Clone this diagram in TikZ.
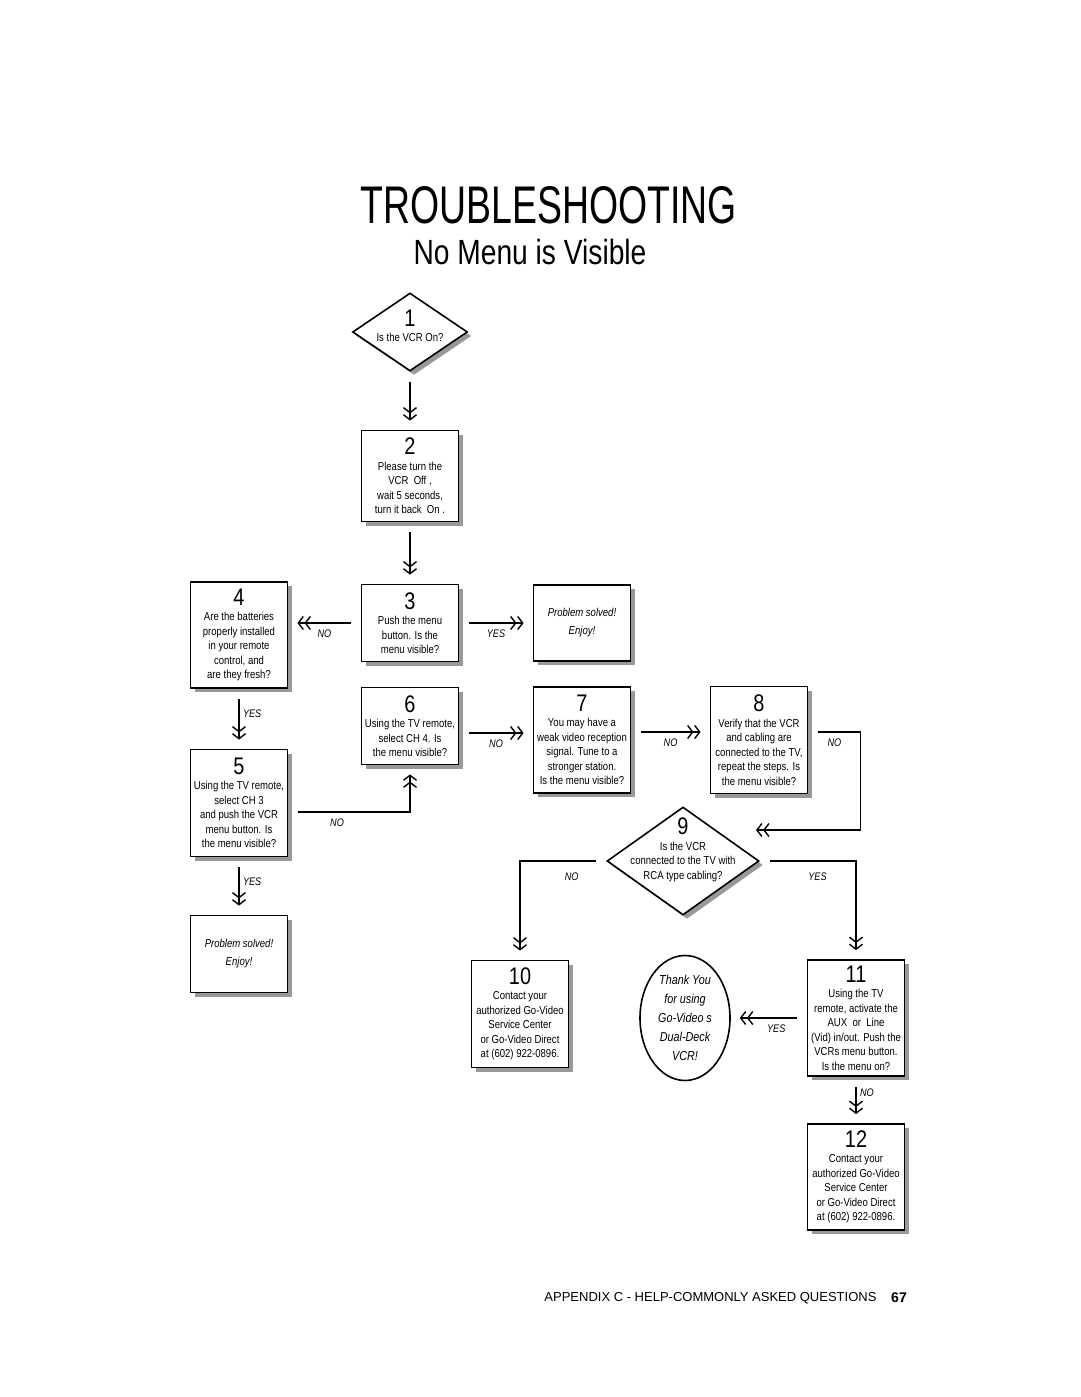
\documentclass[tikz,border=0pt]{standalone}
\usepackage{fontspec}
\setmainfont{Liberation Sans}[FakeStretch=0.83]
\newfontfamily\footfont{Liberation Sans}
\usetikzlibrary{shapes.geometric,shadows,arrows.meta}
\tikzstyle{every node}=[font=\fontsize{11.5}{14.5}\selectfont]
\tikzstyle{shade}=[drop shadow={shadow xshift=4pt,shadow yshift=-4pt,fill=black!40,opacity=1}]
\tikzstyle{stepbox}=[draw,line width=1.8pt,fill=white,shade,minimum width=97pt,align=center,inner sep=2pt]
\tikzstyle{decision}=[draw,diamond,line width=1.6pt,fill=white,shade,inner sep=0pt]
\tikzstyle{solved}=[stepbox,font=\fontsize{11.5}{18}\selectfont\itshape]
\tikzstyle{flow}=[line width=1.4pt,shorten <=10pt,shorten >=9pt,
	-{Straight Barb[length=5pt,width=13pt,sep=0.5pt]Straight Barb[length=5pt,width=13pt]}]
\tikzstyle{answer}=[font=\fontsize{11}{12}\selectfont\itshape]
\newcommand{\stepno}[1]{{\fontsize{24}{24}\selectfont #1}\\[1pt]}

\begin{document}
\begin{tikzpicture}[x=1pt,y=-1pt]
	\useasboundingbox (0,0) rectangle (1080,1397);
	\node(title) at (549,205) {\fontsize{53}{53}\selectfont\scalebox{0.85}[1]{TROUBLESHOOTING}};
	\node(sub) at (530,252) {\fontsize{35}{35}\selectfont\scalebox{0.97}[1]{No Menu is Visible}};

	\node(d1)[decision,minimum width=115pt,minimum height=78pt,
		label={[align=center,yshift=6pt]center:{\stepno{1}Is the VCR On?}}] at (410,332) {};
	\node(s2)[stepbox,minimum height=91pt,below of=d1,node distance=144pt]
		{\stepno{2}Please turn the\\VCR~ Off ,\\wait 5 seconds,\\turn it back~ On .};
	\node(s3)[stepbox,minimum height=77pt,below of=s2,node distance=147pt]
		{\stepno{3}Push the menu\\button. Is the\\menu visible?};
	\node(ok1)[solved,minimum height=76pt,right of=s3,node distance=172pt]
		{Problem solved!\\Enjoy!};
	\node(s4)[stepbox,minimum height=106pt,left of=s3,node distance=171pt,yshift=-12pt]
		{\stepno{4}Are the batteries\\properly installed\\in your remote\\control, and\\are they fresh?};
	\node(s6)[stepbox,minimum height=77pt,below of=s3,node distance=103pt]
		{\stepno{6}Using the TV remote,\\select CH 4. Is\\the menu visible?};
	\node(s7)[stepbox,minimum height=106pt,right of=s6,node distance=172pt,yshift=-14pt]
		{\stepno{7}You may have a\\weak video reception\\signal. Tune to a\\stronger station.\\Is the menu visible?};
	\node(s8)[stepbox,minimum height=107pt,right of=s7,node distance=177pt]
		{\stepno{8}Verify that the VCR\\and cabling are\\connected to the TV,\\repeat the steps. Is\\the menu visible?};
	\node(s5)[stepbox,minimum height=107pt,below of=s4,node distance=168pt]
		{\stepno{5}Using the TV remote,\\select CH 3\\and push the VCR\\menu button. Is\\the menu visible?};
	\node(ok2)[solved,minimum height=77pt,below of=s5,node distance=151pt]
		{Problem solved!\\Enjoy!};
	\node(d9)[decision,minimum width=152pt,minimum height=108pt,
		label={[align=center,yshift=11pt]center:{\stepno{9}Is the VCR\\connected to the TV with\\RCA type cabling?}}] at (683,861) {};
	\node(s10)[stepbox,minimum height=107pt] at (520,1014)
		{\stepno{10}Contact your\\authorized Go-Video\\Service Center\\or Go-Video Direct\\at (602) 922-0896.};
	\node(s11)[stepbox,minimum height=116pt] at (856,1018)
		{\stepno{11}Using the TV\\remote, activate the\\AUX~ or~ Line\\(Vid) in/out. Push the\\VCRs menu button.\\Is the menu on?};
	\node(ty)[draw,ellipse,line width=1.6pt,inner sep=-10pt,minimum width=90pt,minimum height=125pt,
		align=center,font=\fontsize{13}{19}\selectfont\itshape,left of=s11,node distance=171pt]
		{Thank You\\for using\\Go-Video s\\Dual-Deck\\VCR!};
	\node(s12)[stepbox,minimum height=106pt,below of=s11,node distance=159pt]
		{\stepno{12}Contact your\\authorized Go-Video\\Service Center\\or Go-Video Direct\\at (602) 922-0896.};

	\coordinate (in9) at ([xshift=64pt,yshift=31pt]d9.center);

	\path[flow] (d1.south) edge (s2.north)
	            (s2.south) edge (s3.north)
	            (s3.west) edge node[answer,below=3pt]{NO} (s3.west -| s4.east)
	            (s3.east) edge node[answer,below=3pt]{YES} (ok1.west)
	            (s4.south) edge node[answer,right,pos=0.42]{YES} (s5.north)
	            (s5.south) edge node[answer,right,pos=0.42]{YES} (ok2.north)
	            (s11.west) edge node[answer,below=3pt,pos=0.4]{YES} (ty.east)
	            (s11.south) edge node[answer,right,pos=0.35]{NO} (s12.north);
	\draw[flow] ([yshift=-9pt]s5.east) -| node[answer,below=3pt,pos=0.2]{NO} (s6.south);
	\draw[flow] ([yshift=-7pt]s6.east) -- node[answer,below=3pt]{NO} ([yshift=-7pt]s6.east -| s7.west);
	\draw[flow] ([yshift=8pt]s7.east) -- node[answer,below=3pt]{NO} ([yshift=8pt]s7.east -| s8.west);
	\draw[flow] ([yshift=8pt]s8.east) -- node[answer,below=3pt]{NO} ++(52,0) |- (in9);
	\draw[flow] (d9.west) -| node[answer,below=8pt,pos=0.2]{NO} (s10.north);
	\draw[flow] (d9.east) -| node[answer,below=8pt,pos=0.3]{YES} (s11.north);

	\node(foot)[anchor=east] at (880,1298)
		{\footfont\fontsize{13}{13}\selectfont APPENDIX C - HELP-COMMONLY ASKED QUESTIONS};
	\node(page) at (899,1298) {\footfont\fontsize{14}{14}\selectfont\bfseries 67};
\end{tikzpicture}
\end{document}
